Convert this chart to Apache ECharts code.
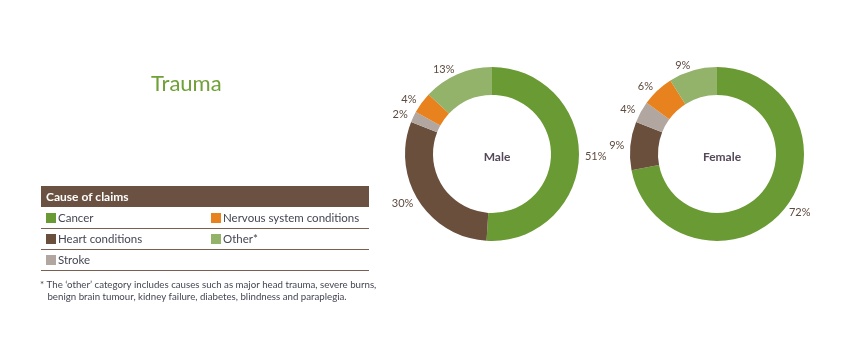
<!DOCTYPE html>
<html>
<head>
<meta charset="utf-8">
<script src="https://cdn.jsdelivr.net/npm/echarts@6/dist/echarts.min.js"></script>
<style>
html,body{margin:0;padding:0;background:#fff;}
#chart{width:854px;height:339px;}
</style>
</head>
<body>
<div id="chart"></div>
<script>
const categories = ['Cancer', 'Heart conditions', 'Stroke', 'Nervous system conditions', 'Other'];
const legendLabels = ['Cancer', 'Heart conditions', 'Stroke', 'Nervous system conditions', 'Other*'];
const maleValues = [51, 30, 2, 4, 13];
const femaleValues = [72, 9, 4, 6, 9];
const groups = ['Male', 'Female'];
const colors = ['#6a9a33', '#6a4f3d', '#b2a7a0', '#e8821e', '#93b26a'];
const titleText = 'Trauma';
const tableHeader = 'Cause of claims';
const footnoteLines = [
  '* The \u2018other\u2019 category includes causes such as major head trauma, severe burns,',
  '   benign brain tumour, kidney failure, diabetes, blindness and paraplegia.'
];

const FONT = 'Lato, "Open Sans", sans-serif';
const chart = echarts.init(document.getElementById('chart'), null, {renderer: 'canvas'});

const centers = [[492, 154], [717, 154]];
const seriesValues = [maleValues, femaleValues];

const series = groups.map((g, gi) => ({
  type: 'pie',
  name: g,
  center: centers[gi],
  radius: [59, 87],
  startAngle: 90,
  clockwise: true,
  avoidLabelOverlap: false,
  silent: true,
  animation: false,
  label: {
    show: true,
    position: 'outside',
    formatter: '{c}%',
    color: '#5e4a3e',
    fontFamily: FONT,
    fontSize: 11,
    distanceToLabelLine: 1
  },
  labelLine: {show: false, length: 5, length2: 0},
  itemStyle: {borderWidth: 0},
  data: categories.map((c, i) => ({name: c, value: seriesValues[gi][i], itemStyle: {color: colors[i]}}))
}));

const graphics = [];
graphics.push({
  type: 'text', left: 151, top: 73,
  style: {text: titleText, fill: '#70a038', font: '22px ' + FONT}
});
// table header
graphics.push({type: 'rect', shape: {x: 41, y: 186, width: 328, height: 21}, style: {fill: '#6b5141'}});
graphics.push({type: 'text', x: 46, y: 197, style: {text: tableHeader, fill: '#ffffff', font: 'bold 12px ' + FONT, verticalAlign: 'middle'}});
// row lines
[228.5, 249.5, 270.5].forEach(y => {
  graphics.push({type: 'line', shape: {x1: 41, y1: y, x2: 369, y2: y}, style: {stroke: '#7a6050', lineWidth: 1}});
});
const rowY = [218, 239, 260];
const colX = [46, 211];
legendLabels.forEach((lab, i) => {
  const col = i < 3 ? 0 : 1;
  const row = i < 3 ? i : i - 3;
  graphics.push({type: 'rect', shape: {x: colX[col], y: rowY[row] - 5, width: 10, height: 10}, style: {fill: colors[i]}});
  graphics.push({type: 'text', x: colX[col] + 12, y: rowY[row], style: {text: lab, fill: '#444652', font: '11.5px ' + FONT, verticalAlign: 'middle'}});
});
footnoteLines.forEach((t, i) => {
  graphics.push({type: 'text', x: 40, y: 285 + i * 12, style: {text: t, fill: '#444652', font: '9.7px ' + FONT, verticalAlign: 'middle'}});
});

chart.setOption({
  backgroundColor: '#ffffff',
  animation: false,
  title: groups.map((g, gi) => ({
    text: g,
    left: centers[gi][0],
    top: 146,
    textAlign: 'center',
    textStyle: {fontFamily: FONT, fontSize: 12, fontWeight: 'bold', color: '#55485a'}
  })),
  series: series,
  graphic: graphics
});
</script>
</body>
</html>
